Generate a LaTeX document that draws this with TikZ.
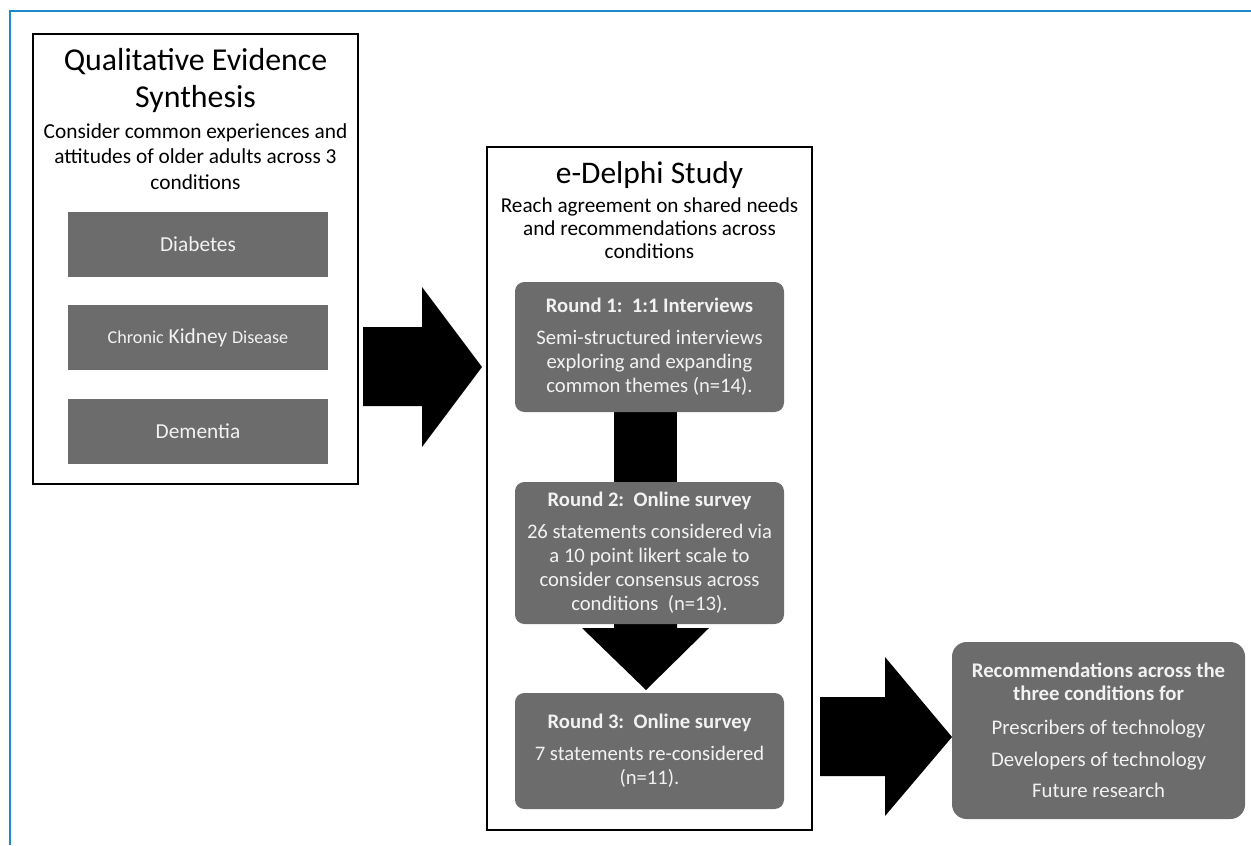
\documentclass[tikz,border=0pt]{standalone}
\usepackage{fontspec}
\setmainfont{Carlito}
\usetikzlibrary{positioning}
\definecolor{boxgray}{RGB}{108,108,108}
\definecolor{boxtext}{RGB}{242,242,242}
\definecolor{frameblue}{RGB}{28,138,200}

\begin{document}
\begin{tikzpicture}[x=0.75pt,y=-0.75pt,
    outer/.style={draw=black,line width=1.5pt,minimum width=243.75pt},
    condbox/.style={fill=boxgray,text=boxtext,minimum width=195pt,minimum height=48.75pt,font=\fontsize{16}{19}\selectfont},
    roundbox/.style={fill=boxgray,text=boxtext,rounded corners=7pt,minimum width=201.75pt,inner xsep=2pt,align=center,font=\fontsize{15.5}{18}\selectfont},
    blockarrow/.style={fill=black}]
    \useasboundingbox (0,0) rectangle (1251,845);
    \draw[frameblue,line width=2.2pt] (10,845) -- (10,11) -- (1251,11);

    % block arrows, behind the boxes
    \fill[blockarrow] (363,327) -- (422,327) -- (422,287) -- (482,367) -- (422,447) -- (422,406) -- (363,406) -- cycle;
    \fill[blockarrow] (614,405) rectangle (677,485);
    \fill[blockarrow] (614,615) -- (677,615) -- (677,628) -- (709,628) -- (646,690) -- (582,628) -- (614,628) -- cycle;
    \fill[blockarrow] (820,697) -- (885,697) -- (885,657) -- (952,737) -- (885,816) -- (885,776) -- (820,776) -- cycle;

    % evidence synthesis
    \node[outer,minimum height=337.5pt] (qes) at (195.5,259) {};
    \node[anchor=base,align=center,font=\fontsize{23.9}{27.75}\selectfont] (qestitle) at (195.5,108) {Qualitative Evidence\\Synthesis};
    \node[anchor=base,align=center,font=\fontsize{16}{19}\selectfont] (qesaim) at (195.5,189) {Consider common experiences and\\attitudes of older adults across 3\\conditions};
    \node[condbox] (diab) at (198,244) {Diabetes};
    \node[condbox] (ckd)  at (198,337.5) {{\fontsize{13.6}{16}\selectfont Chronic} Kidney {\fontsize{13.6}{16}\selectfont Disease}};
    \node[condbox] (dem)  at (198,431.5) {Dementia};

    % e-Delphi
    \node[outer,minimum height=512.25pt] (delphi) at (649.5,488.5) {};
    \node[anchor=base,font=\fontsize{23.6}{28}\selectfont] (delphititle) at (649.5,183) {e-Delphi Study};
    \node[anchor=base,align=center,font=\fontsize{15.9}{17.25}\selectfont] (delphiaim) at (649.5,258) {Reach agreement on shared needs\\and recommendations across\\conditions};
    \node[roundbox,minimum height=97.5pt] (round1) at (649.5,347) {\textbf{Round 1:\ \ 1:1 Interviews}\\[6pt]Semi-structured interviews\\exploring and expanding\\common themes (n=14).};
    \node[roundbox,minimum height=106.5pt] (round2) at (649.5,553) {\textbf{Round 2:\ \ Online survey}\\[6pt]26 statements considered via\\a 10 point likert scale to\\consider consensus across\\conditions\ \ (n=13).};
    \node[roundbox,minimum height=87pt] (round3) at (649.5,751) {\textbf{Round 3:\ \ Online survey}\\[6pt]7 statements re-considered\\(n=11).};

    % outcome
    \node[roundbox,rounded corners=11pt,minimum width=219.75pt,minimum height=132.75pt,font=\fontsize{15.6}{17.25}\selectfont] (recs) at (1098.5,730.5)
      {\textbf{Recommendations across the}\\\textbf{three conditions for}\\[8pt]Prescribers of technology\\[7pt]Developers of technology\\[6pt]Future research};
\end{tikzpicture}
\end{document}
